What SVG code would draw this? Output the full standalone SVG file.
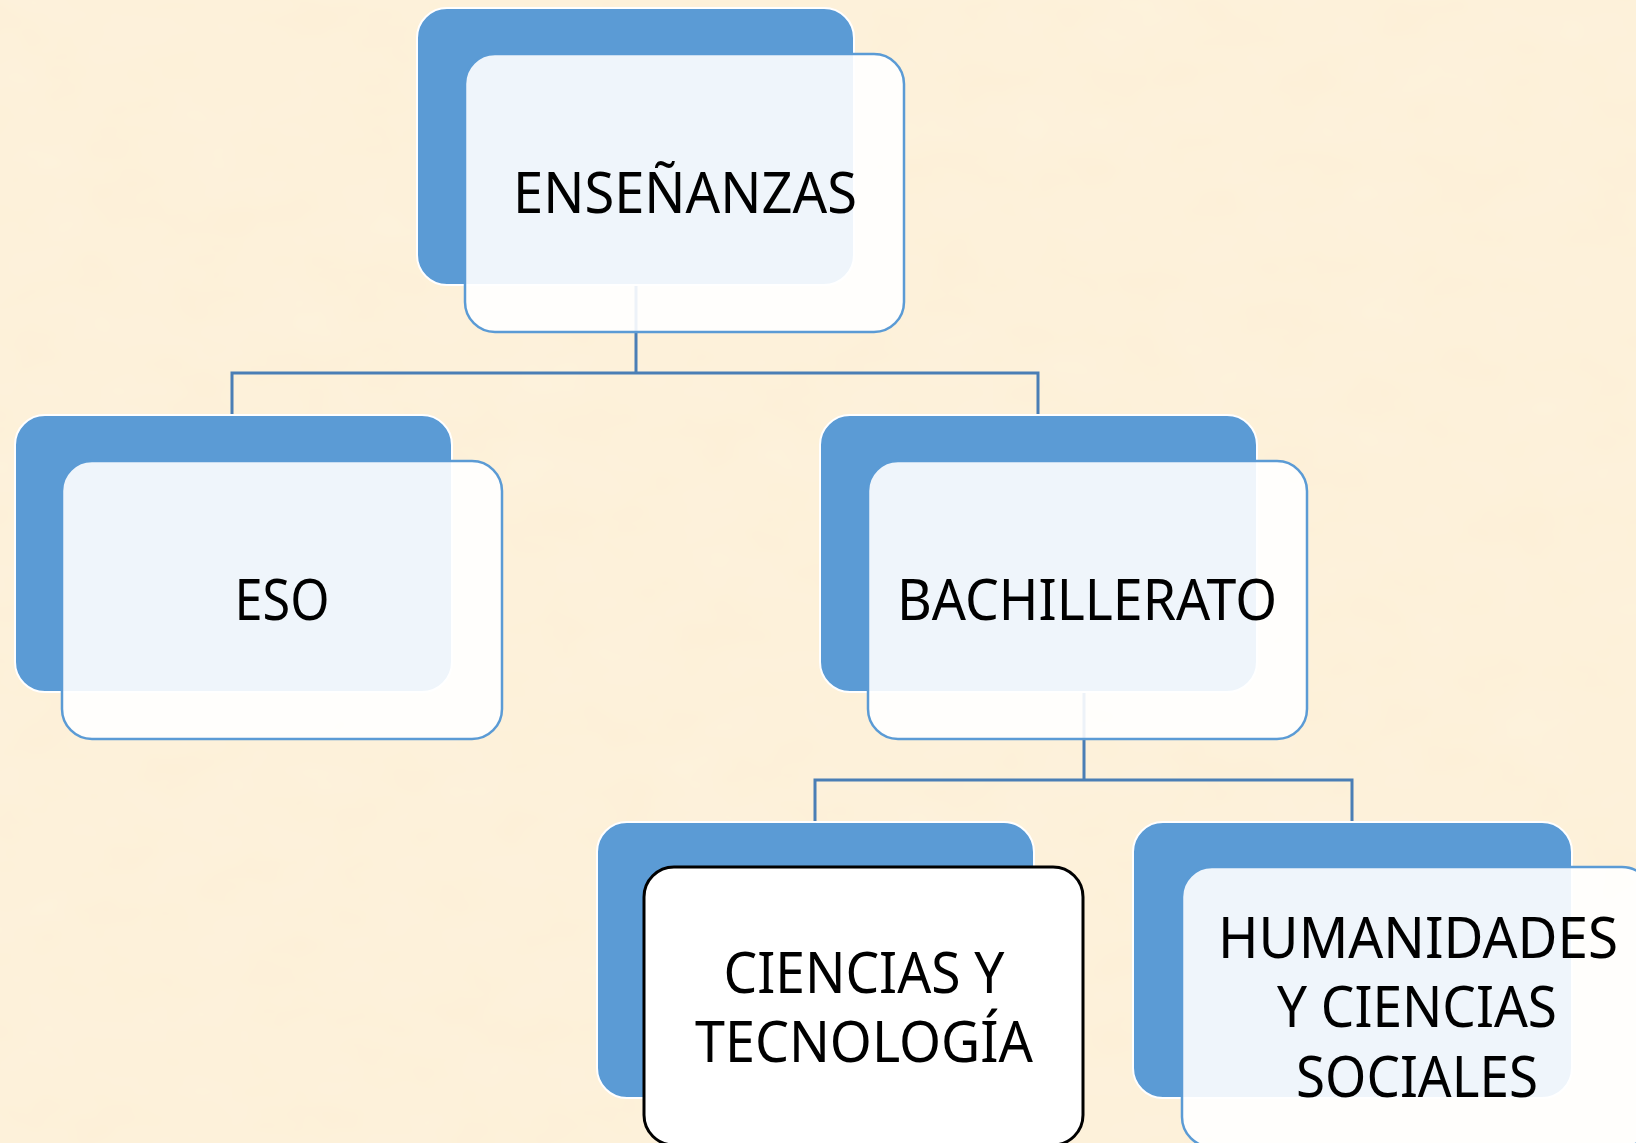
<svg xmlns="http://www.w3.org/2000/svg" width="1636" height="1143" viewBox="0 0 1636 1143">
  <defs>
    <filter id="paper" x="0" y="0" width="100%" height="100%">
      <feTurbulence type="fractalNoise" baseFrequency="0.012 0.02" numOctaves="3" seed="7" result="n"/>
      <feColorMatrix in="n" type="matrix" values="0 0 0 0 0.99  0 0 0 0 0.93  0 0 0 0 0.80  0 0 0 0.35 -0.05"/>
    </filter>
    <style>
      .bg { fill: #FDF0D8; }
      .back { fill: #5B9BD5; stroke: #FFFFFF; stroke-width: 2; }
      .front { fill: #FFFFFF; fill-opacity: 0.9; stroke: #5B9BD5; stroke-width: 2.5; }
      .front-sel { fill: #FFFFFF; stroke: #000000; stroke-width: 3; }
      .conn { fill: none; stroke: #4A7EB5; stroke-width: 3; }
      .lbl { font-family: "Noto Sans", "Liberation Sans", sans-serif; font-size: 56px; fill: #000000; text-anchor: middle; }
    </style>
  </defs>
  <rect class="bg" x="0" y="0" width="1636" height="1143"/>
  <rect x="0" y="0" width="1636" height="1143" filter="url(#paper)"/>

  <g id="connectors">
    <path class="conn" d="M636 286 V373 M232 373 H1038 M232 371.5 V415 M1038 371.5 V415"/>
    <path class="conn" d="M1084 693 V780 M815 780 H1352 M815 778.5 V822 M1352 778.5 V822"/>
  </g>

  <g id="node-ensenanzas">
    <rect class="back" x="417" y="8" width="437" height="277" rx="30"/>
    <rect class="front" x="465" y="54" width="439" height="278" rx="30"/>
    <text class="lbl" x="685" y="213" textLength="344" lengthAdjust="spacingAndGlyphs">ENSEÑANZAS</text>
  </g>

  <g id="node-eso">
    <rect class="back" x="15" y="415" width="437" height="277" rx="30"/>
    <rect class="front" x="62" y="461" width="440" height="278" rx="30"/>
    <text class="lbl" x="282" y="620" textLength="95" lengthAdjust="spacingAndGlyphs">ESO</text>
  </g>

  <g id="node-bachillerato">
    <rect class="back" x="820" y="415" width="437" height="277" rx="30"/>
    <rect class="front" x="868" y="461" width="439" height="278" rx="30"/>
    <text class="lbl" x="1087" y="620" textLength="380" lengthAdjust="spacingAndGlyphs">BACHILLERATO</text>
  </g>

  <g id="node-ciencias">
    <rect class="back" x="597" y="822" width="437" height="276" rx="30"/>
    <rect class="front-sel" x="644" y="867" width="439" height="278" rx="30"/>
    <text class="lbl" x="864" y="993" textLength="281" lengthAdjust="spacingAndGlyphs">CIENCIAS Y</text>
    <text class="lbl" x="864" y="1062" textLength="338" lengthAdjust="spacingAndGlyphs">TECNOLOGÍA</text>
  </g>

  <g id="node-humanidades">
    <rect class="back" x="1133" y="822" width="439" height="276" rx="30"/>
    <rect class="front" x="1182" y="867" width="470" height="280" rx="30"/>
    <text class="lbl" x="1418" y="958" textLength="400" lengthAdjust="spacingAndGlyphs">HUMANIDADES</text>
    <text class="lbl" x="1417" y="1027" textLength="280" lengthAdjust="spacingAndGlyphs">Y CIENCIAS</text>
    <text class="lbl" x="1417" y="1097" textLength="242" lengthAdjust="spacingAndGlyphs">SOCIALES</text>
  </g>
</svg>
